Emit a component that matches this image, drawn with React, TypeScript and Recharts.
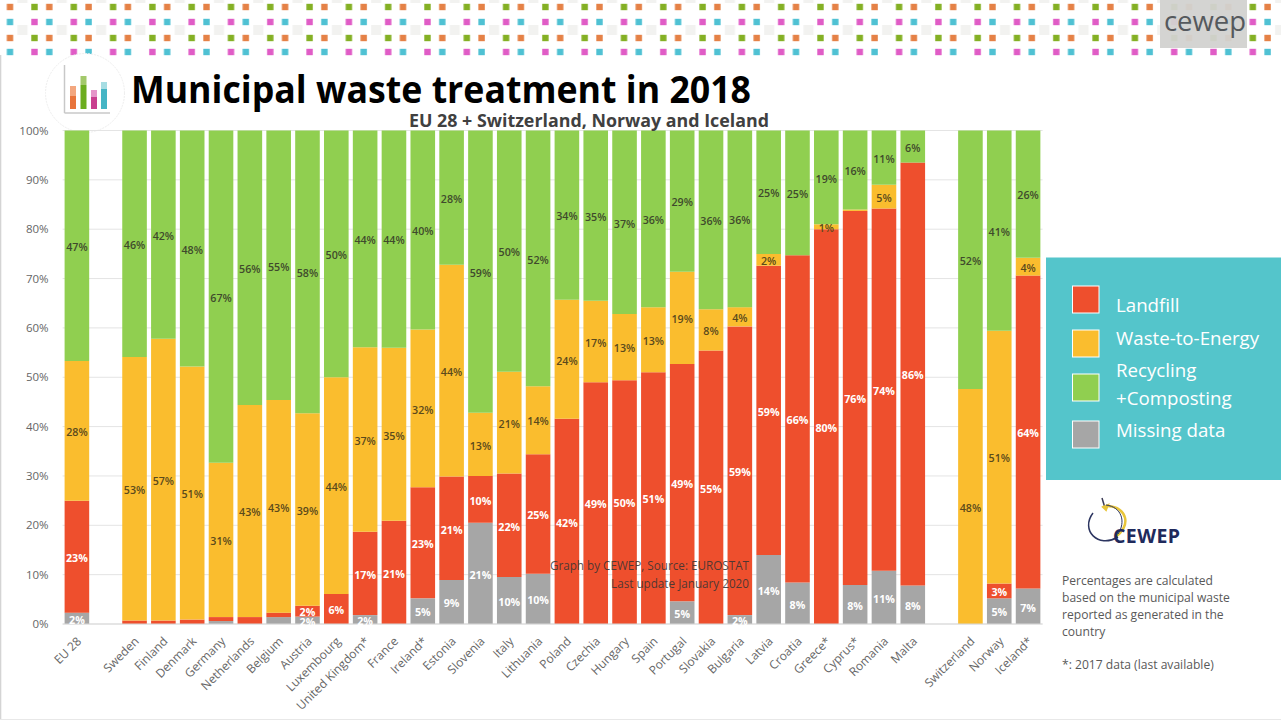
import React from 'react';
import { BarChart, Bar, XAxis, YAxis, CartesianGrid, LabelList } from 'recharts';

const categories = ['EU 28',' ','Sweden','Finland','Denmark','Germany','Netherlands','Belgium','Austria','Luxembourg','United Kingdom*','France','Ireland*','Estonia','Slovenia','Italy','Lithuania','Poland','Czechia','Hungary','Spain','Portugal','Slovakia','Bulgaria','Latvia','Croatia','Greece*','Cyprus*','Romania','Malta','  ','Switzerland','Norway','Iceland*'];
const missing   = [2.3,0,0,0,0,0.6,0,1.4,1.5,0,1.8,0,5.2,8.9,20.5,9.5,10.2,0,0,0,0,4.6,0,1.8,14,8.4,0,7.9,10.8,7.8,0,0,5.2,7.2];
const landfill  = [22.7,0,0.7,0.7,0.9,0.8,1.4,0.9,2.2,6.1,16.9,20.9,22.5,21,9.5,21,24.2,41.6,49,49.4,51,48.1,55.4,58.5,58.6,66.3,80,75.8,73.4,85.7,0,0,3,63.4];
const wte       = [28.3,0,53.4,57.1,51.3,31.3,43,43.1,39,43.9,37.4,35.1,32,42.9,12.8,20.6,13.8,24.1,16.5,13.4,13.2,18.7,8.4,3.9,2.4,0,1,0.3,4.8,0,0,47.6,51.2,3.6];
const recycling = [46.7,0,45.9,42.2,47.8,67.3,55.6,54.6,57.3,50,43.9,44,40.3,27.2,57.2,48.9,51.8,34.3,34.5,37.2,35.8,28.6,36.2,35.8,25,25.3,19,16,11,6.5,0,52.4,40.6,25.8];

const missingLabels   = [2,null,null,null,null,null,null,null,2,null,2,null,5,9,21,10,10,null,null,null,null,5,null,2,14,8,null,8,11,8,null,null,5,7];
const landfillLabels  = [23,null,null,null,null,null,null,null,2,6,17,21,23,21,10,22,25,42,49,50,51,49,55,59,59,66,80,76,74,86,null,null,3,64];
const wteLabels       = [28,null,53,57,51,31,43,43,39,44,37,35,32,44,13,21,14,24,17,13,13,19,8,4,2,null,1,null,5,null,null,48,51,4];
const recyclingLabels = [47,null,46,42,48,67,56,55,58,50,44,44,40,28,59,50,52,34,35,37,36,29,36,36,25,25,19,16,11,6,null,52,41,26];

const yTicks = [0,10,20,30,40,50,60,70,80,90,100];
const legendNames = ['Landfill','Waste-to-Energy','Recycling\n+Composting','Missing data'];
const noteLines = ['Percentages are calculated','based on the municipal waste','reported as generated in the','country'];

const RED = '#ee4f2d', YEL = '#fabd2e', GRN = '#90cf50', GRY = '#a6a6a6';
const fmt = (v: number | null) => (v == null ? '' : `${v}%`);
const data = categories.map((name, i) => ({
  name,
  missing: missing[i], landfill: landfill[i], wte: wte[i], recycling: recycling[i],
  missingLabel: fmt(missingLabels[i]), landfillLabel: fmt(landfillLabels[i]),
  wteLabel: fmt(wteLabels[i]), recyclingLabel: fmt(recyclingLabels[i]),
}));

const FONT = '"Open Sans", sans-serif';
const labelWhite = { fill: '#ffffff', fontSize: 10.7, fontWeight: 700, fontFamily: FONT };
const labelYellow = { fill: '#5a4a1c', fontSize: 10.7, fontWeight: 600, fontFamily: FONT };
const labelGreen = { fill: '#3f4a2c', fontSize: 10.7, fontWeight: 600, fontFamily: FONT };

function Header() {
  return (
    <svg width={1281} height={135} style={{ position: 'absolute', left: 0, top: 0 }}>
      <defs>
        <pattern id="dots" x={6.5} y={0} width={39.3} height={70} patternUnits="userSpaceOnUse">
          <rect x={0.3} y={3.8} width={6.4} height={6.4} fill="#e58146" />
          <rect x={24.8} y={3.8} width={6.4} height={6.4} fill="#84b024" />
          <rect x={0.3} y={18.8} width={6.4} height={6.4} fill="#4fc1d3" />
          <rect x={24.8} y={18.8} width={6.4} height={6.4} fill="#e05cc6" />
          <rect x={0.3} y={34.8} width={6.4} height={6.4} fill="#e58146" />
          <rect x={24.8} y={34.8} width={6.4} height={6.4} fill="#84b024" />
          <rect x={0.3} y={48.8} width={6.4} height={6.4} fill="#4fc1d3" />
          <rect x={24.8} y={48.8} width={6.4} height={6.4} fill="#e05cc6" />
          <rect x={11} y={25} width={10} height={10} fill="#f2f2f0" />
          <rect x={11} y={0} width={10} height={3} fill="#f2f2f0" />
        </pattern>
      </defs>
      <rect x={0} y={0} width={1281} height={57} fill="url(#dots)" />
      <rect x={1160} y={0} width={87} height={48} fill="#d2d2d0" fillOpacity={0.95} />
      <text x={1205} y={31} textAnchor="middle" fontFamily={FONT} fontSize={27.5} fill="#55595d">cewep</text>
      <circle cx={85} cy={93} r={39.5} fill="#ffffff" stroke="#eeeeee" strokeDasharray="2 1" />
      <path d="M64.5 65V113" stroke="#c8c8c8" strokeWidth={1.5} />
      <path d="M64.5 113H110" stroke="#c8c8c8" strokeWidth={1.5} />
      <rect x={70} y={86} width={6} height={10} fill="#f3a77f" />
      <rect x={70} y={96} width={6} height={13} fill="#e8743b" />
      <rect x={80.5} y={76} width={6} height={9} fill="#a3c96b" />
      <rect x={80.5} y={85} width={6} height={24} fill="#6cad1f" />
      <rect x={91} y={90} width={6} height={7} fill="#e596c9" />
      <rect x={91} y={97} width={6} height={12} fill="#c93f8f" />
      <rect x={101} y={82} width={6} height={7} fill="#a6dde3" />
      <rect x={101} y={89} width={6} height={20} fill="#45b5c5" />
    </svg>
  );
}

function Overlay() {
  const colors = [RED, YEL, GRN, GRY];
  const sq = [286, 330, 374, 421];
  const ty = [305, 338, 370, 430];
  return (
    <svg width={1281} height={720} style={{ position: 'absolute', left: 0, top: 0, pointerEvents: 'none' }} fontFamily={FONT}>
      <rect x={1046} y={257.5} width={235} height={222.5} fill="#54c5cb" />
      {legendNames.map((n, i) => (
        <g key={n}>
          <rect x={1072.5} y={sq[i]} width={26.5} height={27} fill={colors[i]} stroke="#fff" strokeWidth={1} />
          {n.split('\n').map((t, j) => (
            <text key={t} x={1116} y={ty[i] + 7 + j * 28} fontSize={18.7} fill="#ffffff">{t}</text>
          ))}
        </g>
      ))}
      <path d="M1102 498 L1105 508" stroke="#3a3a55" strokeWidth={1.5} />
      <path d="M1103 507 L1108 505 L1106 510 Z" fill="#e8c53a" stroke="#e8c53a" strokeWidth={2} />
      <path d="M1108 506 C1127 507 1132 526 1115 537" stroke="#e8c53a" strokeWidth={2.5} fill="none" />
      <path d="M1106 505 C1122 507 1126 522 1118 534" stroke="#2c3560" strokeWidth={1} fill="none" />
      <path d="M1093 513 C1080 530 1098 549 1118 537" stroke="#2c3560" strokeWidth={1.5} fill="none" />
      <text x={1113} y={543} fontSize={19.5} fontWeight={700} fill="#1f2a5c" letterSpacing={0.4}>CEWEP</text>
      {noteLines.map((t, i) => (
        <text key={t} x={1062} y={584.5 + i * 17} fontSize={12.1} fill="#595959">{t}</text>
      ))}
      <text x={1062} y={668.5} fontSize={12.1} fill="#595959">*: 2017 data (last available)</text>
      <text x={749} y={569.5} fontSize={11.7} textAnchor="end" fill="#333" fillOpacity={0.85}>Graph by CEWEP, Source: EUROSTAT</text>
      <text x={749} y={587.5} fontSize={11.7} textAnchor="end" fill="#333" fillOpacity={0.85}>Last update January 2020</text>
      <text x={131} y={102.5} fontSize={38} fontWeight={700} fill="#000" textLength={620} lengthAdjust="spacingAndGlyphs">Municipal waste treatment in 2018</text>
      <text x={409} y={126.5} fontSize={18.5} fontWeight={700} fill="#404040" textLength={360} lengthAdjust="spacingAndGlyphs">EU 28 + Switzerland, Norway and Iceland</text>
      <rect x={0} y={55} width={1.3} height={665} fill="#d4d4d4" />
      <rect x={0} y={719} width={1281} height={1} fill="#e8e8e8" />
    </svg>
  );
}

export default function App() {
  return (
    <div style={{ position: 'fixed', left: 0, top: 0, width: 1281, height: 720, background: '#fff', overflow: 'hidden', fontFamily: FONT }}>
      <Header />
      <div style={{ position: 'absolute', left: 0, top: 0 }}>
        <BarChart width={1281} height={720} data={data} margin={{ top: 130.5, right: 238.4, bottom: 6, left: 2.6 }} barSize={24.6}>
          <CartesianGrid horizontal vertical={false} stroke="#e4e4e4" />
          <XAxis dataKey="name" interval={0} height={90} angle={-45} textAnchor="end" tickLine={false} axisLine={{ stroke: '#d9d9d9' }}
            tick={{ fill: '#666666', fontSize: 12, fontFamily: FONT, dx: -1 }} tickMargin={6} />
          <YAxis type="number" domain={[0, 100]} ticks={yTicks} width={60} tickLine={false} axisLine={false} tickFormatter={(v: number) => `${v}%`}
            tick={{ fill: '#666666', fontSize: 11.5, fontFamily: FONT }} tickMargin={8} />
          <Bar dataKey="missing" stackId="a" fill={GRY} isAnimationActive={false}>
            <LabelList dataKey="missingLabel" position="center" dy={1.5} style={labelWhite} />
          </Bar>
          <Bar dataKey="landfill" stackId="a" fill={RED} isAnimationActive={false}>
            <LabelList dataKey="landfillLabel" position="center" dy={1.5} style={labelWhite} />
          </Bar>
          <Bar dataKey="wte" stackId="a" fill={YEL} isAnimationActive={false}>
            <LabelList dataKey="wteLabel" position="center" dy={1.5} style={labelYellow} />
          </Bar>
          <Bar dataKey="recycling" stackId="a" fill={GRN} isAnimationActive={false}>
            <LabelList dataKey="recyclingLabel" position="center" dy={1.5} style={labelGreen} />
          </Bar>
        </BarChart>
      </div>
      <Overlay />
    </div>
  );
}
